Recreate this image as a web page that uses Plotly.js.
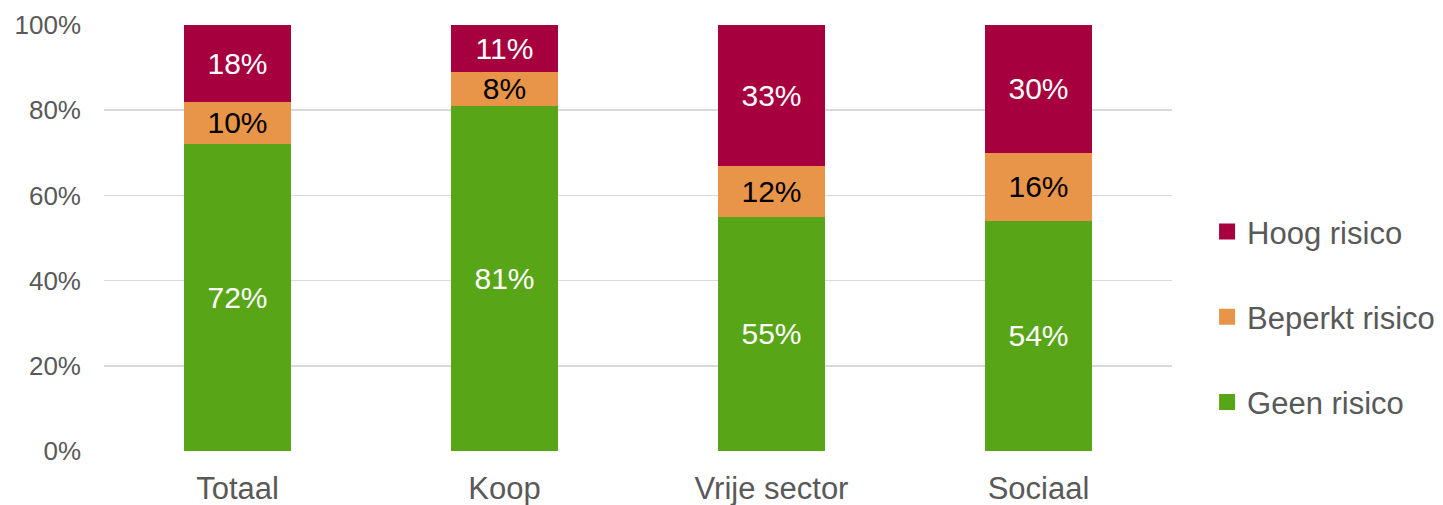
<!DOCTYPE html>
<html><head><meta charset="utf-8">
<script src="https://cdn.plot.ly/plotly-3.0.1.min.js"></script>
<style>html,body{margin:0;padding:0;background:#fff}#chart{width:1443px;height:505px}</style>
</head><body><div id="chart"></div>
<script>
const categories = ['Totaal', 'Koop', 'Vrije sector', 'Sociaal'];
const geenRisico = [72, 81, 55, 54];
const beperktRisico = [10, 8, 12, 16];
const hoogRisico = [18, 11, 33, 30];
const seriesNames = ['Geen risico', 'Beperkt risico', 'Hoog risico'];
const colors = ['#58A618', '#E8954A', '#A6003E'];
const labelColors = ['#FFFFFF', '#000000', '#FFFFFF'];
const yTickVals = [0, 20, 40, 60, 80, 100];
const yTickText = ['0%', '20%', '40%', '60%', '80%', '100%'];

const FONT = 'Liberation Sans, Arial, sans-serif';
const values = [geenRisico, beperktRisico, hoogRisico];
const traces = [];
values.forEach((v, i) => {
  traces.push({
    type: 'bar', x: categories, y: v, name: seriesNames[i],
    marker: {color: colors[i], line: {width: 0}},
    width: 0.4,
    text: v.map(d => d + '%'), textposition: 'inside', insidetextanchor: 'middle',
    textangle: 0, constraintext: 'none',
    textfont: {family: FONT, size: 30, color: labelColors[i]},
    hoverinfo: 'skip', showlegend: false
  });
});
// legend entries, top to bottom: Hoog, Beperkt, Geen
[2, 1, 0].forEach((i, k) => {
  traces.push({
    type: 'scatter', mode: 'markers', x: [categories[0]], y: [null], name: seriesNames[i],
    marker: {symbol: 'square', size: 16, color: colors[i]},
    legendgroup: 'g' + k, showlegend: true, hoverinfo: 'skip'
  });
});

const layout = {
  width: 1443, height: 505,
  margin: {l: 104, r: 271, t: 25, b: 54, autoexpand: false},
  barmode: 'stack',
  paper_bgcolor: '#fff', plot_bgcolor: '#fff',
  font: {family: FONT, color: '#595959'},
  xaxis: {
    type: 'category', showgrid: false, zeroline: false, showline: false, ticks: '',
    tickfont: {family: FONT, size: 31, color: '#595959'}, ticklabelstandoff: 16,
    fixedrange: true
  },
  yaxis: {
    range: [0, 100], tickvals: yTickVals, ticktext: yTickText,
    showgrid: true, gridcolor: '#D9D9D9', gridwidth: 1.5, zeroline: false, showline: false,
    ticks: '', tickfont: {family: FONT, size: 26, color: '#595959'}, ticklabelstandoff: 22,
    fixedrange: true
  },
  showlegend: true,
  legend: {
    xref: 'container', x: 0.8365, xanchor: 'left', yref: 'paper', y: 0.315, yanchor: 'middle',
    traceorder: 'grouped', tracegroupgap: 42, itemwidth: 30,
    font: {family: FONT, size: 31, color: '#595959'}, bgcolor: 'rgba(0,0,0,0)'
  }
};
Plotly.newPlot('chart', traces, layout, {displayModeBar: false, staticPlot: true});
</script></body></html>
